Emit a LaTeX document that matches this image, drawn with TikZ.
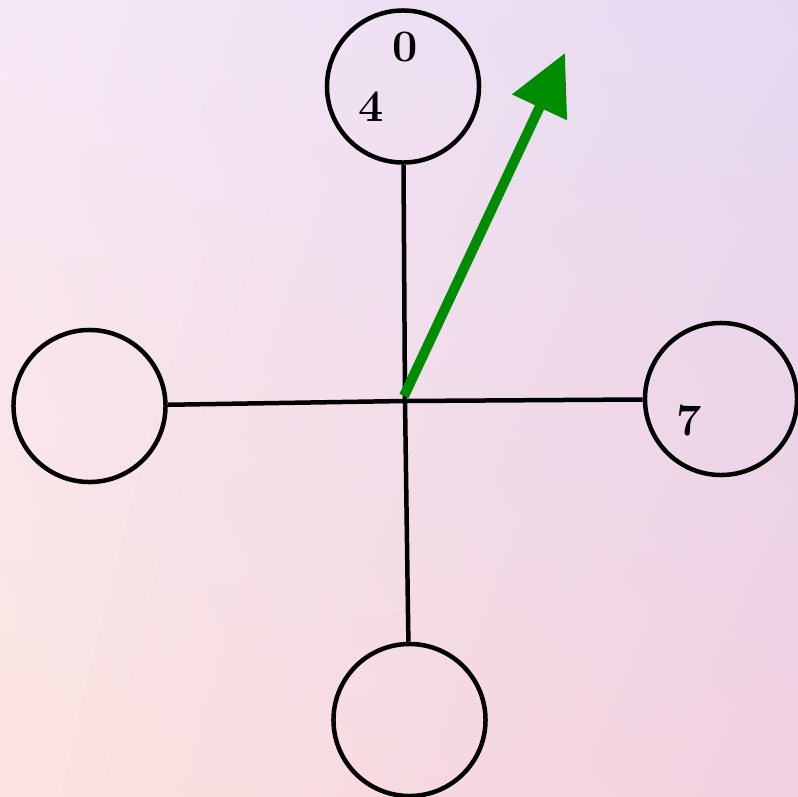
\documentclass[tikz,border=0pt]{standalone}
\usepackage{tikz}
\usetikzlibrary{arrows.meta,shadings}

\definecolor{skyul}{RGB}{247,232,246}
\definecolor{skyur}{RGB}{229,217,241}
\definecolor{skyll}{RGB}{252,228,224}
\definecolor{skylr}{RGB}{241,208,224}
\definecolor{pointer}{RGB}{0,140,0}

\begin{document}
\begin{tikzpicture}[
    x=0.025cm, y=-0.025cm,
    >=Stealth,
    slot/.style={draw,circle,line width=3.2pt,minimum size=3.8cm,inner sep=0pt},
    spoke/.style={line width=3.2pt},
    num/.style={font=\fontsize{32}{38}\selectfont\bfseries,inner sep=0pt},
]
% Background sky
\shade[upper left=skyul,upper right=skyur,lower left=skyll,lower right=skylr]
    (0,0) rectangle (798,797);
\useasboundingbox (0,0) rectangle (798,797);

% Hub and slots
\coordinate (hub) at (405,401);
\node[slot] (top) at (403,86.5) {};
\node[slot] (left) at (89.5,406) {};
\node[slot] (right) at (721,399) {};
\node[slot] (bottom) at (409.5,720) {};

\draw[spoke] (hub) -- (top);
\draw[spoke] (hub) -- (left);
\draw[spoke] (hub) -- (right);
\draw[spoke] (hub) -- (bottom);

% Values
\node[num] (n0) at (405,47) {0};
\node[num] (n4) at (371,107) {4};
\node[num] (n7) at (689,421) {7};

% Pointer
\coordinate (tip) at (565,53);
\draw[pointer,line width=0.25cm,-{Triangle[length=1.5cm,width=1.45cm]}]
    (404,396) -- (tip);
\end{tikzpicture}
\end{document}
